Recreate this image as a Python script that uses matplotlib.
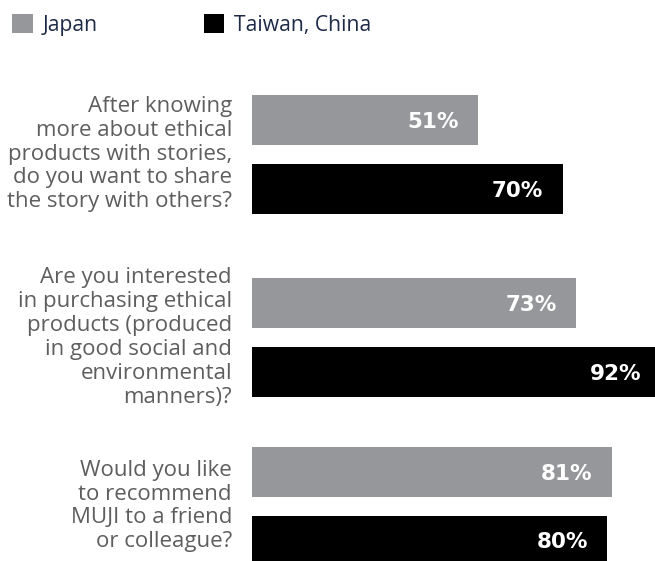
import matplotlib
matplotlib.use('Agg')
import matplotlib.pyplot as plt
from matplotlib.patches import Patch

# survey answers, share of "yes" in percent
questions = [
    "After knowing\nmore about ethical\nproducts with stories,\ndo you want to share\nthe story with others?",
    "Are you interested\nin purchasing ethical\nproducts (produced\nin good social and\nenvironmental\nmanners)?",
    "Would you like\nto recommend\nMUJI to a friend\nor colleague?",
]
japan = [51, 73, 81]
taiwan = [70, 92, 80]
series_names = ["Japan", "Taiwan, China"]

GRAY = '#96979b'
BLACK = '#000000'

W, H = 655, 561
fig = plt.figure(figsize=(W / 100, H / 100), dpi=100)
ax = fig.add_axes([0, 0, 1, 1])

# axis in pixel-like units: x=0 at the bar baseline, y grows downwards
x0 = 252
scale = 4.44  # px per percent
ax.set_xlim(-x0 / scale, (W - x0) / scale)
ax.set_ylim(H, 0)
ax.axis('off')

group_centers = [154, 337.5, 506]
half_gap = 34.5
bar_h = 50

for i, q in enumerate(questions):
    yc = group_centers[i]
    for val, col, dy in ((japan[i], GRAY, -half_gap), (taiwan[i], BLACK, half_gap)):
        ax.barh(yc + dy, val, height=bar_h, color=col, linewidth=0)
        ax.text(val - 4.4, yc + dy + 2, f"{val}%", ha='right', va='center',
                color='white', fontsize=15.5, fontweight='bold', family='DejaVu Sans')
    ax.text(-20 / scale, yc, q, ha='right', va='center', color='#5e5e5e',
            fontsize=16, family='Open Sans', linespacing=1.18)

handles = [Patch(facecolor=GRAY, edgecolor='none'), Patch(facecolor=BLACK, edgecolor='none')]
leg = fig.legend(handles, series_names, loc='upper left', bbox_to_anchor=(4 / W, 1 - 6 / H),
                 ncol=2, frameon=False, handlelength=0.95, handleheight=0.95,
                 handletextpad=0.47, columnspacing=5.05, borderaxespad=0,
                 prop={'family': 'Open Sans', 'size': 15.2}, labelcolor='#1e2b47')

fig.savefig('out.png', dpi=100)
